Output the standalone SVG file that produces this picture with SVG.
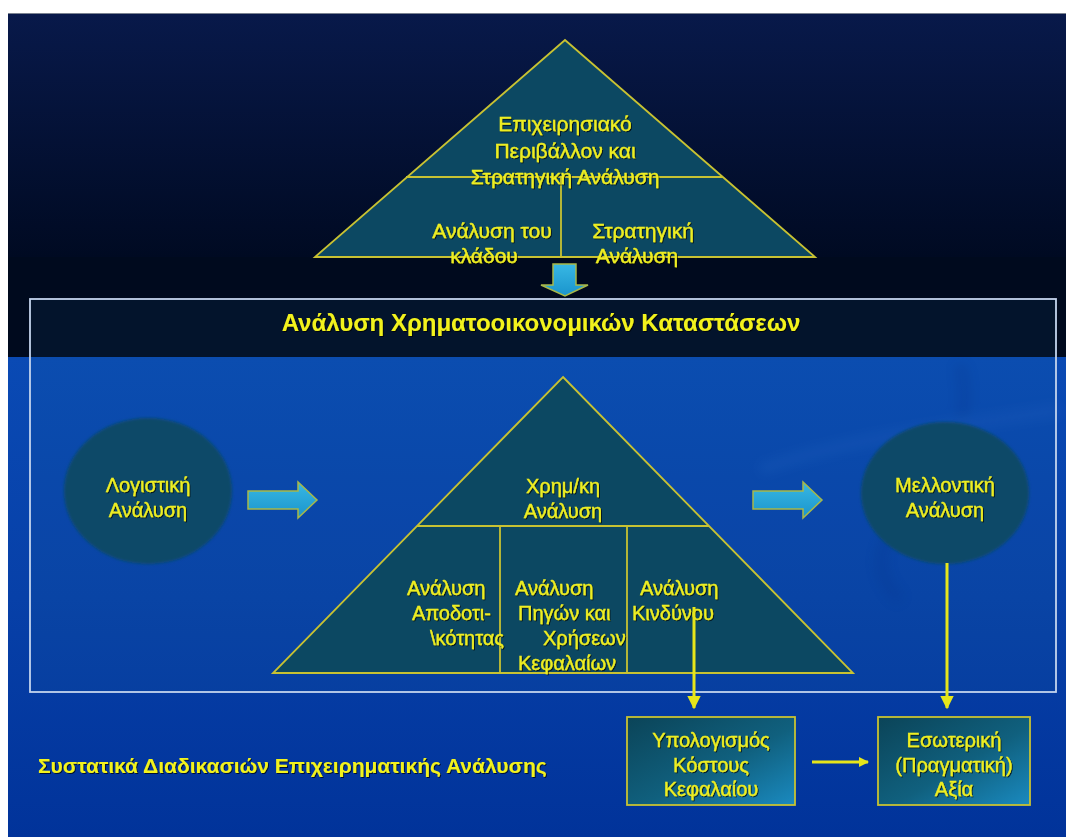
<svg xmlns="http://www.w3.org/2000/svg" width="1066" height="837" viewBox="0 0 1066 837">
  <defs>
    <linearGradient id="skyTop" x1="0" y1="0" x2="0" y2="1">
      <stop offset="0" stop-color="#08194a"/>
      <stop offset="1" stop-color="#000a22"/>
    </linearGradient>
    <linearGradient id="seaBlue" x1="0" y1="0" x2="0" y2="1">
      <stop offset="0" stop-color="#0a4ab4"/>
      <stop offset="0.5" stop-color="#0740a8"/>
      <stop offset="1" stop-color="#01339a"/>
    </linearGradient>
    <linearGradient id="boxFill" x1="0" y1="0" x2="1" y2="1">
      <stop offset="0" stop-color="#0b4458"/>
      <stop offset="0.55" stop-color="#10607e"/>
      <stop offset="1" stop-color="#1a8ac0"/>
    </linearGradient>
    <linearGradient id="arrowFill" x1="0" y1="0" x2="0" y2="1">
      <stop offset="0" stop-color="#38b8e4"/>
      <stop offset="1" stop-color="#1a94cc"/>
    </linearGradient>
    <filter id="soft" x="-10%" y="-10%" width="120%" height="120%">
      <feGaussianBlur stdDeviation="1.5"/>
    </filter>
    <filter id="haze" x="-20%" y="-20%" width="140%" height="140%">
      <feGaussianBlur stdDeviation="6"/>
    </filter>
    <filter id="shadow" x="-5%" y="-20%" width="110%" height="140%">
      <feDropShadow dx="1" dy="1" stdDeviation="0.6" flood-color="#000000" flood-opacity="0.7"/>
    </filter>
    <marker id="yHead" viewBox="0 0 10 10" refX="9" refY="5" markerWidth="4.5" markerHeight="4.5" orient="auto" markerUnits="strokeWidth">
      <path d="M0,0 L10,5 L0,10 Z" fill="#e6e61a"/>
    </marker>
    <marker id="yHeadWide" viewBox="0 0 10 10" refX="9" refY="5" markerWidth="3.4" markerHeight="3.4" orient="auto" markerUnits="strokeWidth">
      <path d="M0,0 L10,5 L0,10 Z" fill="#e6e61a"/>
    </marker>
  </defs>
  <style>
    .lbl { font-family: "Liberation Sans", Arial, sans-serif; font-size: 20px; fill: #eeee22; stroke: #eeee22; stroke-width: 0.35; text-anchor: middle; filter: url(#shadow); }
    .big { font-size: 21px; }
    .lft { text-anchor: start; }
    .ttl { font-family: "Liberation Sans", Arial, sans-serif; font-weight: bold; fill: #f2f21e; filter: url(#shadow); }
    .pyr { fill: #0c4862; stroke: #c8c232; stroke-width: 1.8; }
    .div { stroke: #c8c232; stroke-width: 1.8; fill: none; }
    .blk { fill: url(#arrowFill); stroke: #a8b848; stroke-width: 1.5; }
    .box { fill: url(#boxFill); stroke: #c8c232; stroke-width: 1.8; }
    .link { stroke: #e6e61a; stroke-width: 3; fill: none; }
  </style>

  <!-- page background -->
  <rect x="0" y="0" width="1066" height="837" fill="#ffffff"/>
  <rect x="8" y="13" width="1058" height="245" fill="url(#skyTop)"/>
  <rect x="8" y="257" width="1058" height="101" fill="#000a1e"/>
  <rect x="8" y="357" width="1058" height="480" fill="url(#seaBlue)"/>
  <line x1="8" y1="13.5" x2="1066" y2="13.5" stroke="#7a8290" stroke-width="1"/>

  <!-- faint decorative swirl -->
  <g opacity="0.22" filter="url(#haze)">
    <path d="M960,365 C975,420 950,470 900,520 C880,545 870,570 900,600" stroke="#062c80" stroke-width="10" fill="none"/>
    <path d="M760,470 C840,440 930,430 1060,410" stroke="#2a68c8" stroke-width="12" fill="none"/>
  </g>

  <!-- financial statements frame -->
  <g id="frame">
    <rect x="30" y="299" width="1026" height="393" fill="#1a6090" fill-opacity="0.12" stroke="#c4d4ee" stroke-width="1.8"/>
    <text class="ttl" x="541" y="331" font-size="24" text-anchor="middle">Ανάλυση Χρηματοοικονομικών Καταστάσεων</text>
  </g>

  <!-- business environment pyramid -->
  <g id="env-pyramid">
    <polygon class="pyr" points="565,40 815,257 315,257"/>
    <line class="div" x1="406" y1="177" x2="723" y2="177"/>
    <line class="div" x1="561" y1="177" x2="561" y2="257"/>
    <text class="lbl big" x="565" y="131">Επιχειρησιακό</text>
    <text class="lbl big" x="565" y="158">Περιβάλλον και</text>
    <text class="lbl big" x="565" y="184">Στρατηγική Ανάλυση</text>
    <text class="lbl big" x="492" y="238">Ανάλυση του</text>
    <text class="lbl big" x="484" y="263">κλάδου</text>
    <text class="lbl big" x="643" y="238">Στρατηγική</text>
    <text class="lbl big" x="637" y="263">Ανάλυση</text>
  </g>

  <!-- financial analysis pyramid -->
  <g id="fin-pyramid">
    <polygon class="pyr" points="563,377 853,673 273,673"/>
    <line class="div" x1="417" y1="526" x2="709" y2="526"/>
    <line class="div" x1="500" y1="526" x2="500" y2="673"/>
    <line class="div" x1="627" y1="526" x2="627" y2="673"/>
    <text class="lbl" x="563" y="493">Χρημ/κη</text>
    <text class="lbl" x="563" y="518">Ανάλυση</text>
    <text class="lbl lft" x="407" y="595">Ανάλυση</text>
    <text class="lbl lft" x="412" y="620">Αποδοτι-</text>
    <text class="lbl lft" x="430" y="645">\κότητας</text>
    <text class="lbl lft" x="515" y="595">Ανάλυση</text>
    <text class="lbl lft" x="518" y="620">Πηγών και</text>
    <text class="lbl lft" x="543" y="645">Χρήσεων</text>
    <text class="lbl lft" x="518" y="670">Κεφαλαίων</text>
    <text class="lbl lft" x="640" y="595">Ανάλυση</text>
    <text class="lbl lft" x="632" y="620">Κινδύνου</text>
  </g>

  <!-- accounting analysis -->
  <g id="accounting">
    <ellipse cx="148" cy="491" rx="84" ry="73" fill="#0c4a68" filter="url(#soft)"/>
    <text class="lbl" x="148" y="492">Λογιστική</text>
    <text class="lbl" x="148" y="517">Ανάλυση</text>
  </g>

  <!-- prospective analysis -->
  <g id="prospective">
    <ellipse cx="945" cy="493" rx="84" ry="71" fill="#0c4a68" filter="url(#soft)"/>
    <text class="lbl" x="945" y="492">Μελλοντική</text>
    <text class="lbl" x="945" y="517">Ανάλυση</text>
  </g>

  <!-- cost of capital -->
  <g id="cost-of-capital">
    <rect class="box" x="627" y="717" width="168" height="88"/>
    <text class="lbl" x="711" y="747">Υπολογισμός</text>
    <text class="lbl" x="711" y="772">Κόστους</text>
    <text class="lbl" x="711" y="796">Κεφαλαίου</text>
  </g>

  <!-- intrinsic value -->
  <g id="intrinsic-value">
    <rect class="box" x="878" y="717" width="152" height="88"/>
    <text class="lbl" x="954" y="747">Εσωτερική</text>
    <text class="lbl" x="954" y="772">(Πραγματική)</text>
    <text class="lbl" x="954" y="796">Αξία</text>
  </g>

  <!-- caption -->
  <g id="caption">
    <text class="ttl" x="38" y="773" font-size="21">Συστατικά Διαδικασιών Επιχειρηματικής Ανάλυσης</text>
  </g>

  <!-- connectors -->
  <g id="connectors">
    <path class="blk" d="M553,264 H576 V285 H588 L565,296 L541,285 H553 Z"/>
    <path class="blk" d="M248,491 H298 V482 L317,500 L298,518 V509 H248 Z"/>
    <path class="blk" d="M753,491 H803 V482 L822,500 L803,518 V509 H753 Z"/>
    <line class="link" x1="694" y1="607" x2="694" y2="708" marker-end="url(#yHead)"/>
    <line class="link" x1="947" y1="563" x2="947" y2="708" marker-end="url(#yHead)"/>
    <line class="link" x1="812" y1="762" x2="868" y2="762" stroke-width="5" marker-end="url(#yHeadWide)"/>
  </g>
</svg>
